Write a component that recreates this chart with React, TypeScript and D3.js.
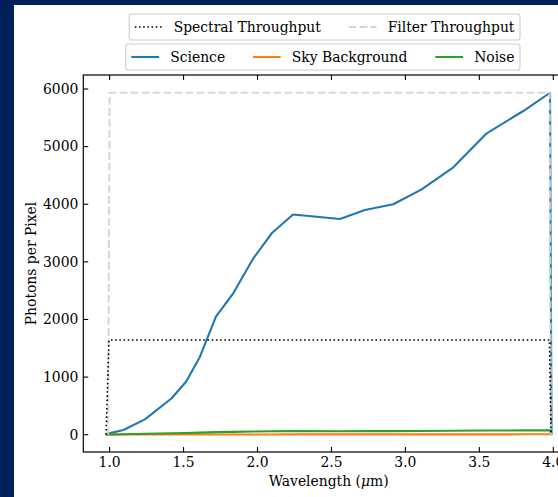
import React, { useEffect, useRef } from "react";
import * as d3 from "d3";

// Data
const wavelength = [0.975, 1.093, 1.239, 1.42, 1.517, 1.611, 1.719, 1.836, 1.972, 2.096, 2.24, 2.558, 2.726, 2.918, 3.11, 3.324, 3.55, 3.797, 3.978, 3.988];
const science = [10, 82, 267, 632, 920, 1354, 2048, 2454, 3061, 3495, 3822, 3744, 3900, 3999, 4259, 4641, 5231, 5618, 5935, 0];
const skyBackground = [2, 3, 4, 5, 5, 5, 5, 5, 5, 5, 6, 6, 6, 6, 6, 6, 6, 7, 7, 0];
const noise = [3, 9, 16, 25, 30, 37, 45, 50, 55, 59, 62, 61, 62, 63, 65, 68, 72, 75, 77, 0];

const spectralX = [0.976, 0.996, 3.974, 3.985];
const spectralY = [0, 1643, 1643, 0];
const filterX = [0.99, 1.0, 3.976, 3.984];
const filterY = [0, 5935, 5935, 0];

const xTicks = [1.0, 1.5, 2.0, 2.5, 3.0, 3.5, 4.0];
const yTicks = [0, 1000, 2000, 3000, 4000, 5000, 6000];

const W = 558;
const H = 497;
const FONT = "'DejaVu Serif', serif";
const FS = 13.9;

export default function App() {
  const ref = useRef<SVGSVGElement | null>(null);

  useEffect(() => {
    const svg = d3.select(ref.current);
    svg.selectAll("*").remove();

    svg.append("rect").attr("width", W).attr("height", H).attr("fill", "#00205b");
    svg.append("rect").attr("x", 14).attr("y", 5).attr("width", W - 14).attr("height", H - 5).attr("fill", "#ffffff");

    const L = 83.3, T = 75, R = 574, B = 452;
    const x = d3.scaleLinear().domain([0.8222, 4.14]).range([L, R]);
    const y = d3.scaleLinear().domain([-300, 6243]).range([B, T]);

    const clipId = "plotclip";
    svg.append("clipPath").attr("id", clipId).append("rect")
      .attr("x", L).attr("y", T).attr("width", R - L).attr("height", B - T);

    const plot = svg.append("g").attr("clip-path", `url(#${clipId})`);

    const line = d3.line<[number, number]>().x(d => x(d[0])).y(d => y(d[1]));
    const zip = (a: number[], b: number[]) => a.map((v, i) => [v, b[i]] as [number, number]);

    plot.append("path").attr("d", line(zip(wavelength, science))!)
      .attr("fill", "none").attr("stroke", "#1f77b4").attr("stroke-width", 2.1).attr("stroke-linejoin", "round");
    plot.append("path").attr("d", line(zip(wavelength, skyBackground))!)
      .attr("fill", "none").attr("stroke", "#ff7f0e").attr("stroke-width", 2.1).attr("stroke-linejoin", "round");
    plot.append("path").attr("d", line(zip(wavelength, noise))!)
      .attr("fill", "none").attr("stroke", "#2ca02c").attr("stroke-width", 2.1).attr("stroke-linejoin", "round");
    plot.append("path").attr("d", line(zip(filterX, filterY))!)
      .attr("fill", "none").attr("stroke", "#d3d3d3").attr("stroke-opacity", 0.9).attr("stroke-width", 2.1)
      .attr("stroke-dasharray", "7.7,3.3");
    plot.append("path").attr("d", line(zip(spectralX, spectralY))!)
      .attr("fill", "none").attr("stroke", "#000000").attr("stroke-width", 1.6)
      .attr("stroke-dasharray", "1.6,2.6");

    // spines
    const ax = svg.append("g");
    ax.append("rect").attr("x", L).attr("y", T).attr("width", R - L).attr("height", B - T)
      .attr("fill", "none").attr("stroke", "#000").attr("stroke-width", 1.2);

    const tl = 4.9;
    xTicks.forEach(t => {
      const px = x(t);
      ax.append("line").attr("x1", px).attr("x2", px).attr("y1", B).attr("y2", B - tl).attr("stroke", "#000").attr("stroke-width", 1.1);
      ax.append("line").attr("x1", px).attr("x2", px).attr("y1", T).attr("y2", T + tl).attr("stroke", "#000").attr("stroke-width", 1.1);
      ax.append("text").attr("x", px).attr("y", B + 4.9).attr("dy", "0.76em")
        .attr("text-anchor", "middle").attr("font-family", FONT).attr("font-size", FS).attr("fill", "#000")
        .text(d3.format(".1f")(t));
    });
    yTicks.forEach(t => {
      const py = y(t);
      ax.append("line").attr("x1", L).attr("x2", L + tl).attr("y1", py).attr("y2", py).attr("stroke", "#000").attr("stroke-width", 1.1);
      ax.append("line").attr("x1", R).attr("x2", R - tl).attr("y1", py).attr("y2", py).attr("stroke", "#000").attr("stroke-width", 1.1);
      ax.append("text").attr("x", L - 4.9).attr("y", py).attr("dy", "0.35em")
        .attr("text-anchor", "end").attr("font-family", FONT).attr("font-size", FS).attr("fill", "#000")
        .text(String(t));
    });

    ax.append("text").attr("x", (L + R) / 2).attr("y", 486)
      .attr("text-anchor", "middle").attr("font-family", FONT).attr("font-size", FS).attr("fill", "#000")
      .text("Wavelength (").append("tspan").attr("font-style", "italic").text("μ");
    ax.select("text:last-of-type");
    const xl = ax.selectAll<SVGTextElement, unknown>("text").filter(function () { return (this as SVGTextElement).textContent!.startsWith("Wavelength"); });
    xl.append("tspan").text("m)");

    ax.append("text").attr("transform", `translate(31,${(T + B) / 2}) rotate(-90)`)
      .attr("text-anchor", "middle").attr("dy", "0.35em").attr("font-family", FONT).attr("font-size", FS).attr("fill", "#000")
      .text("Photons per Pixel");

    // legends (matplotlib-like layout)
    type Item = { label: string; color: string; dash: string | null; width: number };
    const drawLegend = (items: Item[], right: number, top: number) => {
      const g = svg.append("g");
      const pad = 0.4 * FS, hl = 2 * FS, htp = 0.8 * FS, cs = 2 * FS;
      const h = 26;
      const box = g.append("rect");
      const widths: number[] = [];
      const texts = items.map(it => {
        const t = g.append("text").attr("font-family", FONT).attr("font-size", FS).attr("fill", "#000")
          .attr("dy", "0.35em").text(it.label);
        widths.push((t.node() as SVGTextElement).getComputedTextLength());
        return t;
      });
      const total = 2 * pad + items.reduce((s, _, i) => s + hl + htp + widths[i], 0) + cs * (items.length - 1);
      const left = right - total;
      box.attr("x", left).attr("y", top).attr("width", total).attr("height", h)
        .attr("rx", 2.8).attr("fill", "#fff").attr("fill-opacity", 0.8)
        .attr("stroke", "#cccccc").attr("stroke-width", 1.1);
      let cx = left + pad;
      const cy = top + h / 2;
      items.forEach((it, i) => {
        const l = g.append("line").attr("x1", cx).attr("x2", cx + hl).attr("y1", cy).attr("y2", cy)
          .attr("stroke", it.color).attr("stroke-width", it.width);
        if (it.dash) l.attr("stroke-dasharray", it.dash);
        texts[i].attr("x", cx + hl + htp).attr("y", cy);
        cx += hl + htp + widths[i] + cs;
      });
    };

    drawLegend([
      { label: "Spectral Throughput", color: "#000", dash: "1.6,2.6", width: 1.6 },
      { label: "Filter Throughput", color: "#d3d3d3", dash: "7.7,3.3", width: 2.1 },
    ], 520, 14);
    drawLegend([
      { label: "Science", color: "#1f77b4", dash: null, width: 2.1 },
      { label: "Sky Background", color: "#ff7f0e", dash: null, width: 2.1 },
      { label: "Noise", color: "#2ca02c", dash: null, width: 2.1 },
    ], 520, 44);
  }, []);

  return (
    <svg ref={ref} width={W} height={H} style={{ position: "absolute", left: 0, top: 0, display: "block" }} />
  );
}
